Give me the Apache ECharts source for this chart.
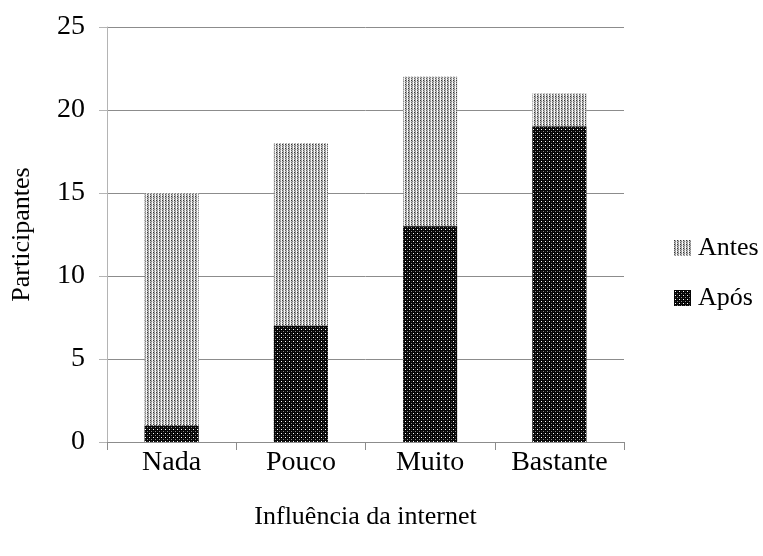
<!DOCTYPE html>
<html>
<head>
<meta charset="utf-8">
<script src="https://cdn.jsdelivr.net/npm/echarts@6/dist/echarts.min.js"></script>
<style>
  html, body { margin: 0; padding: 0; background: #fff; }
  #chart { width: 763px; height: 556px; }
</style>
</head>
<body>
<div id="chart"></div>
<script>
// dados
var categorias = ["Nada", "Pouco", "Muito", "Bastante"];
var antes = [15, 18, 22, 21];
var apos = [1, 7, 13, 19];
var yTicks = [0, 5, 10, 15, 20, 25];

// padrões de preenchimento (pontilhado estilo Excel)
function makePattern(w, h, bg, dots) {
  var c = document.createElement("canvas");
  c.width = w;
  c.height = h;
  var ctx = c.getContext("2d");
  ctx.fillStyle = bg;
  ctx.fillRect(0, 0, w, h);
  dots.forEach(function (d) {
    ctx.fillStyle = d[2];
    ctx.fillRect(d[0], d[1], 1, 1);
  });
  return c;
}

var padraoAntes = makePattern(3, 4, "#fafafa", [
  [0, 0, "#333"], [1, 0, "#b0b0b0"],
  [0, 1, "#b8b8b8"], [1, 1, "#808080"],
  [0, 2, "#606060"], [1, 2, "#c0c0c0"],
  [0, 3, "#c0c0c0"], [1, 3, "#909090"],
  [2, 1, "#e0e0e0"]
]);
var padraoApos = makePattern(4, 4, "#050505", [
  [1, 1, "#fff"], [3, 3, "#8a8a8a"], [3, 1, "#2a2a2a"], [1, 3, "#2a2a2a"]
]);

var serif = "Liberation Serif";
var myChart = echarts.init(document.getElementById("chart"));
myChart.setOption({
  animation: false,
  textStyle: { fontFamily: serif },
  grid: { left: 107, right: 139, top: 27, bottom: 114, outerBoundsMode: "none", containLabel: false },
  legend: {
    orient: "vertical",
    left: 669,
    top: 230,
    itemWidth: 17,
    itemHeight: 16,
    itemGap: 24,
    icon: "rect",
    textStyle: { fontFamily: serif, fontSize: 26, color: "#000", padding: [0, 0, 0, 2] },
    data: ["Antes", "Após"]
  },
  xAxis: {
    type: "category",
    data: categorias,
    name: "Influência da internet",
    nameLocation: "middle",
    nameGap: 62,
    nameTextStyle: { fontFamily: serif, fontSize: 26, color: "#000" },
    axisLine: { lineStyle: { color: "#8c8c8c", width: 1 } },
    axisTick: { show: true, length: 8, lineStyle: { color: "#8c8c8c" } },
    axisLabel: { fontFamily: serif, fontSize: 28, color: "#000", margin: 7 }
  },
  yAxis: {
    type: "value",
    min: yTicks[0],
    max: yTicks[yTicks.length - 1],
    interval: 5,
    name: "Participantes",
    nameLocation: "middle",
    nameGap: 72,
    nameRotate: 90,
    nameTextStyle: { fontFamily: serif, fontSize: 26, color: "#000" },
    axisLine: { show: true, lineStyle: { color: "#b4b4b4", width: 1 } },
    axisTick: { show: true, length: 8, lineStyle: { color: "#b4b4b4" } },
    axisLabel: { fontFamily: serif, fontSize: 28, color: "#000", margin: 22 },
    splitLine: { show: true, lineStyle: { color: "#8c8c8c", width: 1 } }
  },
  series: [
    {
      name: "Antes",
      type: "bar",
      data: antes,
      barWidth: 54,
      barGap: "-100%",
      itemStyle: { color: { image: padraoAntes, repeat: "repeat" } }
    },
    {
      name: "Após",
      type: "bar",
      data: apos,
      barWidth: 54,
      itemStyle: { color: { image: padraoApos, repeat: "repeat" } }
    }
  ]
});
</script>
</body>
</html>
